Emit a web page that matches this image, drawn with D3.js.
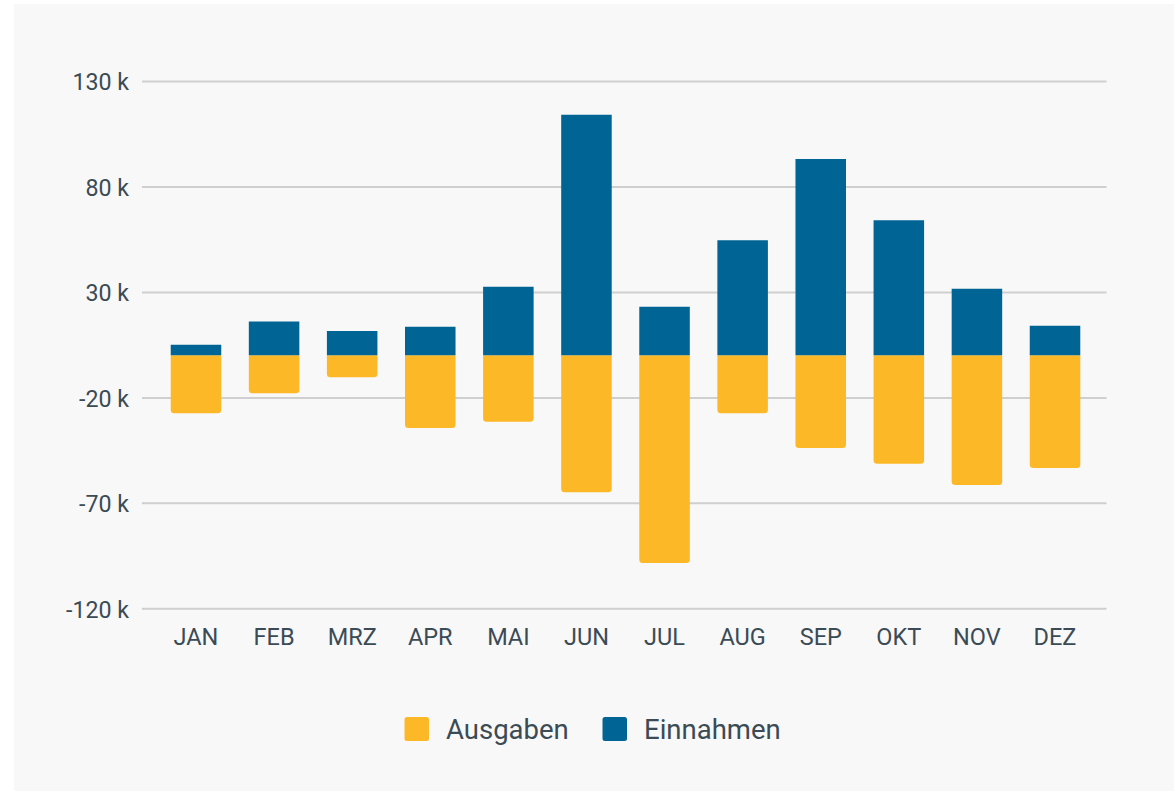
<!DOCTYPE html>
<html>
<head>
<meta charset="utf-8">
<script src="https://cdn.jsdelivr.net/npm/d3@7"></script>
<style>
  html, body { margin: 0; padding: 0; background: #ffffff; }
  svg { display: block; font-family: Roboto, "Noto Sans", sans-serif; }
</style>
</head>
<body>
<svg id="chart" width="1174" height="791"></svg>
<script>
const months = ["JAN","FEB","MRZ","APR","MAI","JUN","JUL","AUG","SEP","OKT","NOV","DEZ"];
const einnahmen = [5000, 16000, 11500, 13500, 32500, 114000, 23000, 54500, 93000, 64000, 31500, 14000];
const ausgaben = [-27500, -18000, -10500, -34500, -31500, -65000, -98500, -27500, -44000, -51500, -61500, -53500];
const yTicks = [-120000, -70000, -20000, 30000, 80000, 130000];
const seriesNames = ["Ausgaben", "Einnahmen"];
const seriesColors = ["#fdb827", "#006494"];
const textColor = "#3b4b55";
const fontFamily = "Roboto, 'Noto Sans', sans-serif";

const svg = d3.select("#chart");

svg.append("rect")
  .attr("x", 14).attr("y", 4)
  .attr("width", 1174 - 14).attr("height", 791 - 4)
  .attr("fill", "#f8f8f8");

const y = d3.scaleLinear().domain([-120000, 130000]).range([608.3, 81]);
const x = d3.scaleBand().domain(months).range([155.1, 1095.9])
  .paddingInner(0.353).paddingOuter(0.2);

// gridlines + y labels
const yAxis = d3.axisLeft(y).tickValues(yTicks)
  .tickSize(-(1106.5 - 142))
  .tickPadding(13)
  .tickFormat(d => (d / 1000) + " k");
const gy = svg.append("g").attr("transform", "translate(142,0)").call(yAxis)
  .attr("font-family", fontFamily);
gy.select(".domain").remove();
gy.selectAll(".tick line").attr("stroke", "#cfcfcf").attr("stroke-width", 2);
gy.selectAll(".tick text")
  .attr("fill", textColor)
  .attr("font-size", 23.2)
  .attr("dy", "0.38em");

// bars
const r = 3.5;
function barPath(xPos, w, y0, y1, roundBottom) {
  if (roundBottom) {
    return `M${xPos},${y0} H${xPos + w} V${y1 - r} Q${xPos + w},${y1} ${xPos + w - r},${y1} H${xPos + r} Q${xPos},${y1} ${xPos},${y1 - r} Z`;
  }
  return `M${xPos},${y0} H${xPos + w} V${y1} H${xPos} Z`;
}

svg.append("g").selectAll("path")
  .data(months)
  .join("path")
  .attr("d", (m, i) => barPath(x(m), x.bandwidth(), y(0), y(ausgaben[i]), true))
  .attr("fill", seriesColors[0]);

svg.append("g").selectAll("path")
  .data(months)
  .join("path")
  .attr("d", (m, i) => barPath(x(m), x.bandwidth(), y(0), y(einnahmen[i]), false))
  .attr("fill", seriesColors[1]);

// x labels
const xAxis = d3.axisBottom(x).tickSize(0).tickPadding(0);
const gx = svg.append("g").attr("transform", "translate(0,644.5)").call(xAxis)
  .attr("font-family", fontFamily);
gx.select(".domain").remove();
gx.selectAll(".tick text")
  .attr("fill", textColor)
  .attr("font-size", 23.5)
  .attr("dy", 0)
  .attr("y", 0);

// legend
const legendX = [404.5, 602.5];
const lg = svg.append("g");
seriesNames.forEach((name, i) => {
  lg.append("rect")
    .attr("x", legendX[i]).attr("y", 717)
    .attr("width", 24.5).attr("height", 24)
    .attr("rx", 2.5)
    .attr("fill", seriesColors[i]);
  lg.append("text")
    .attr("x", legendX[i] + 41.5).attr("y", 738.5)
    .attr("fill", textColor)
    .attr("font-size", 27.5)
    .text(name);
});
</script>
</body>
</html>
